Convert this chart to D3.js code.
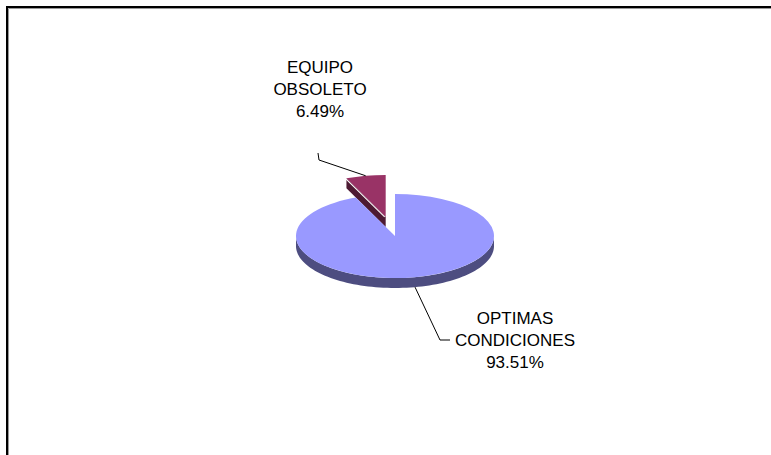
<!DOCTYPE html>
<html>
<head>
<meta charset="utf-8">
<script src="https://cdn.jsdelivr.net/npm/d3@7/dist/d3.min.js"></script>
<style>
  html, body { margin: 0; padding: 0; background: #fff; }
  svg { display: block; }
  text { font-family: "Liberation Sans", Arial, sans-serif; font-size: 17px; fill: #000; }
</style>
</head>
<body>
<svg id="chart"></svg>
<script>
// data
var categories = ["EQUIPO OBSOLETO", "OPTIMAS CONDICIONES"];
var labelLines = [["EQUIPO", "OBSOLETO"], ["OPTIMAS", "CONDICIONES"]];
var values = [6.49, 93.51];
var pctLabels = ["6.49%", "93.51%"];

var W = 771, H = 455;
var svg = d3.select("#chart").attr("width", W).attr("height", H);

// frame (black + grey line, open at right/bottom)
svg.append("path").attr("d", "M7," + H + "V7H" + W)
  .attr("fill", "none").attr("stroke", "#000").attr("stroke-width", 2);
svg.append("path").attr("d", "M8.5," + H + "V8.5H" + W)
  .attr("fill", "none").attr("stroke", "#999").attr("stroke-width", 1);

var cx = 395, cy = 236, rx = 99, ry = 42, depth = 10, explode = 46;
var topColors = ["#993366", "#9999ff"];
var sideColors = ["#4d1a33", "#4d4d80"];

var total = d3.sum(values);
var a0 = 2 * Math.PI * values[0] / total;
var pie = d3.pie().sort(null).startAngle(-a0).endAngle(2 * Math.PI - a0);
var arcs = pie(values);

var arcGen = d3.arc().innerRadius(0).outerRadius(rx);
var line = d3.line();

function pt(a, ox, oy, dz) {
  return [ox + rx * Math.sin(a), oy - ry * Math.cos(a) + (dz || 0)];
}

arcs.forEach(function(d, i) {
  var mid = (d.startAngle + d.endAngle) / 2;
  var ox = cx, oy = cy;
  if (i === 0) {
    ox += Math.sin(mid) * explode;
    oy -= Math.cos(mid) * explode * ry / rx;
  }
  d.ox = ox; d.oy = oy; d.mid = mid;
  var g = svg.append("g");

  // outer wall for front half (angles between PI/2 and 3PI/2)
  var s = Math.max(d.startAngle, Math.PI / 2), e = Math.min(d.endAngle, 3 * Math.PI / 2);
  if (e > s) {
    var n = 80, ptsTop = [], ptsBot = [];
    for (var k = 0; k <= n; k++) {
      var a = s + (e - s) * k / n;
      ptsTop.push(pt(a, ox, oy, 0));
      ptsBot.push(pt(a, ox, oy, depth));
    }
    g.append("path").attr("d", line(ptsTop.concat(ptsBot.reverse())) + "Z")
      .attr("fill", sideColors[i]);
  }

  // cut face at start angle (visible when it faces front-left)
  if (i === 0) {
    var p1 = [ox, oy], p2 = pt(d.startAngle, ox, oy, 0);
    g.append("path")
      .attr("d", line([p1, p2, [p2[0], p2[1] + depth], [p1[0], p1[1] + depth]]) + "Z")
      .attr("fill", sideColors[i]);
    g.append("path").attr("d", line([[p1[0] - 1, p1[1]], [p2[0] - 1, p2[1]]]))
      .attr("stroke", "#fff").attr("stroke-width", 1.2);
  }

  // top face
  g.append("path").attr("d", arcGen(d))
    .attr("transform", "translate(" + ox + "," + oy + ") scale(1," + (ry / rx) + ")")
    .attr("fill", topColors[i]);
});

// labels and leader lines
var lineH = 22;
// EQUIPO OBSOLETO
var e0 = pt(arcs[0].mid, arcs[0].ox, arcs[0].oy, 0);
svg.append("path").attr("d", line([[318, 153], [319, 160], e0]))
  .attr("fill", "none").attr("stroke", "#000").attr("stroke-width", 1);
var t0 = svg.append("text").attr("text-anchor", "middle");
labelLines[0].concat([pctLabels[0]]).forEach(function(s, k) {
  t0.append("tspan").attr("x", 320).attr("y", 73 + k * lineH).text(s);
});

// OPTIMAS CONDICIONES
var e1 = pt(arcs[1].mid, arcs[1].ox, arcs[1].oy, depth);
svg.append("path").attr("d", line([e1, [440, 340], [450, 340]]))
  .attr("fill", "none").attr("stroke", "#000").attr("stroke-width", 1);
var t1 = svg.append("text").attr("text-anchor", "middle");
labelLines[1].concat([pctLabels[1]]).forEach(function(s, k) {
  t1.append("tspan").attr("x", 515).attr("y", 324 + k * lineH).text(s);
});
</script>
</body>
</html>
